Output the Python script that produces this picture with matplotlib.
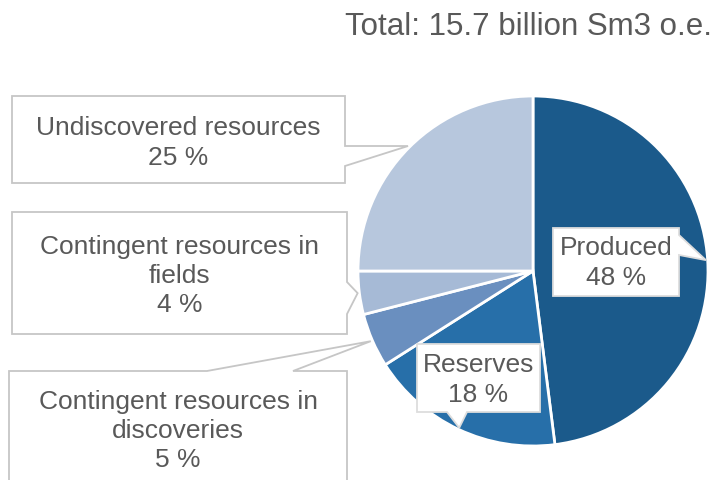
import numpy as np
import matplotlib
matplotlib.use("Agg")
import matplotlib.pyplot as plt
from matplotlib.patches import Polygon

plt.rcParams['font.family'] = ['Liberation Sans', 'DejaVu Sans']

# Resource categories and their shares (%)
categories = ["Produced", "Reserves", "Contingent resources in\ndiscoveries",
              "Contingent resources in\nfields", "Undiscovered resources"]
shares = [48, 18, 5, 4, 25]
colors = ["#1b5a8b", "#276fa9", "#6a8fbf", "#a6bad6", "#b7c7dd"]
title = "Total: 15.7 billion Sm3 o.e."

W, H = 718, 481
fig = plt.figure(figsize=(W / 100, H / 100), dpi=100)
ax = fig.add_axes([0, 0, 1, 1])

cx, cy, R = 533, 272, 175
# y axis is inverted (pixel-style), so counterclock=True runs clockwise on screen
wedges, _ = ax.pie(shares, colors=colors, startangle=-90, counterclock=True,
                   center=(cx, cy), radius=R, frame=True,
                   wedgeprops=dict(edgecolor="white", linewidth=2))
ax.set_xlim(0, W)
ax.set_ylim(H, 0)
ax.set_aspect('equal')
ax.axis('off')


def tip(w, rf=1.0):
    a = np.deg2rad((w.theta1 + w.theta2) / 2)
    return (cx + R * rf * np.cos(a), cy + R * rf * np.sin(a))


def callout(rect, side, base, tip_pt, edge="#c6c6c6", z=3):
    x0, y0, x1, y1 = rect
    b0, b1 = base
    if side == "right":
        pts = [(x0, y0), (x1, y0), (x1, b0), tip_pt, (x1, b1), (x1, y1), (x0, y1)]
    elif side == "top":
        pts = [(x0, y0), (b0, y0), tip_pt, (b1, y0), (x1, y0), (x1, y1), (x0, y1)]
    else:  # bottom
        pts = [(x0, y0), (x1, y0), (x1, y1), (b1, y1), tip_pt, (b0, y1), (x0, y1)]
    ax.add_patch(Polygon(pts, closed=True, facecolor="white", edgecolor=edge,
                         linewidth=1.3, zorder=z, clip_on=False))


txt = dict(color="#595959", fontsize=19, ha="center", va="center",
           linespacing=1.27, zorder=5)

# Produced
t = tip(wedges[0], 0.99)
callout((553, 229, 679, 297), "right", (236, 256), t, edge="#dddddd")
ax.text(616, 263, f"{categories[0]}\n{shares[0]} %", **txt)

# Reserves
t = tip(wedges[1], 0.99)
callout((417, 345, 540, 413), "bottom", (447, 467), t, edge="#dddddd")
ax.text(478.5, 380, f"{categories[1]}\n{shares[1]} %", **txt)

# Contingent resources in discoveries
t = tip(wedges[2], 1.01)
callout((9, 372, 347, 520), "top", (207, 293), t)
ax.text(178, 431, f"{categories[2]}\n{shares[2]} %", **txt)

# Contingent resources in fields
t = tip(wedges[3], 1.01)
callout((12, 213, 347, 335), "right", (283, 315), t)
ax.text(179.5, 276, f"{categories[3]}\n{shares[3]} %", **txt)

# Undiscovered resources
t = tip(wedges[4], 1.01)
callout((12, 97, 345, 184), "right", (147, 167), t)
ax.text(178.5, 143, f"{categories[4]}\n{shares[4]} %", **txt)

ax.text(712, 27, title, color="#595959", fontsize=22.5, ha="right", va="center")

fig.savefig("out.png", dpi=100)
